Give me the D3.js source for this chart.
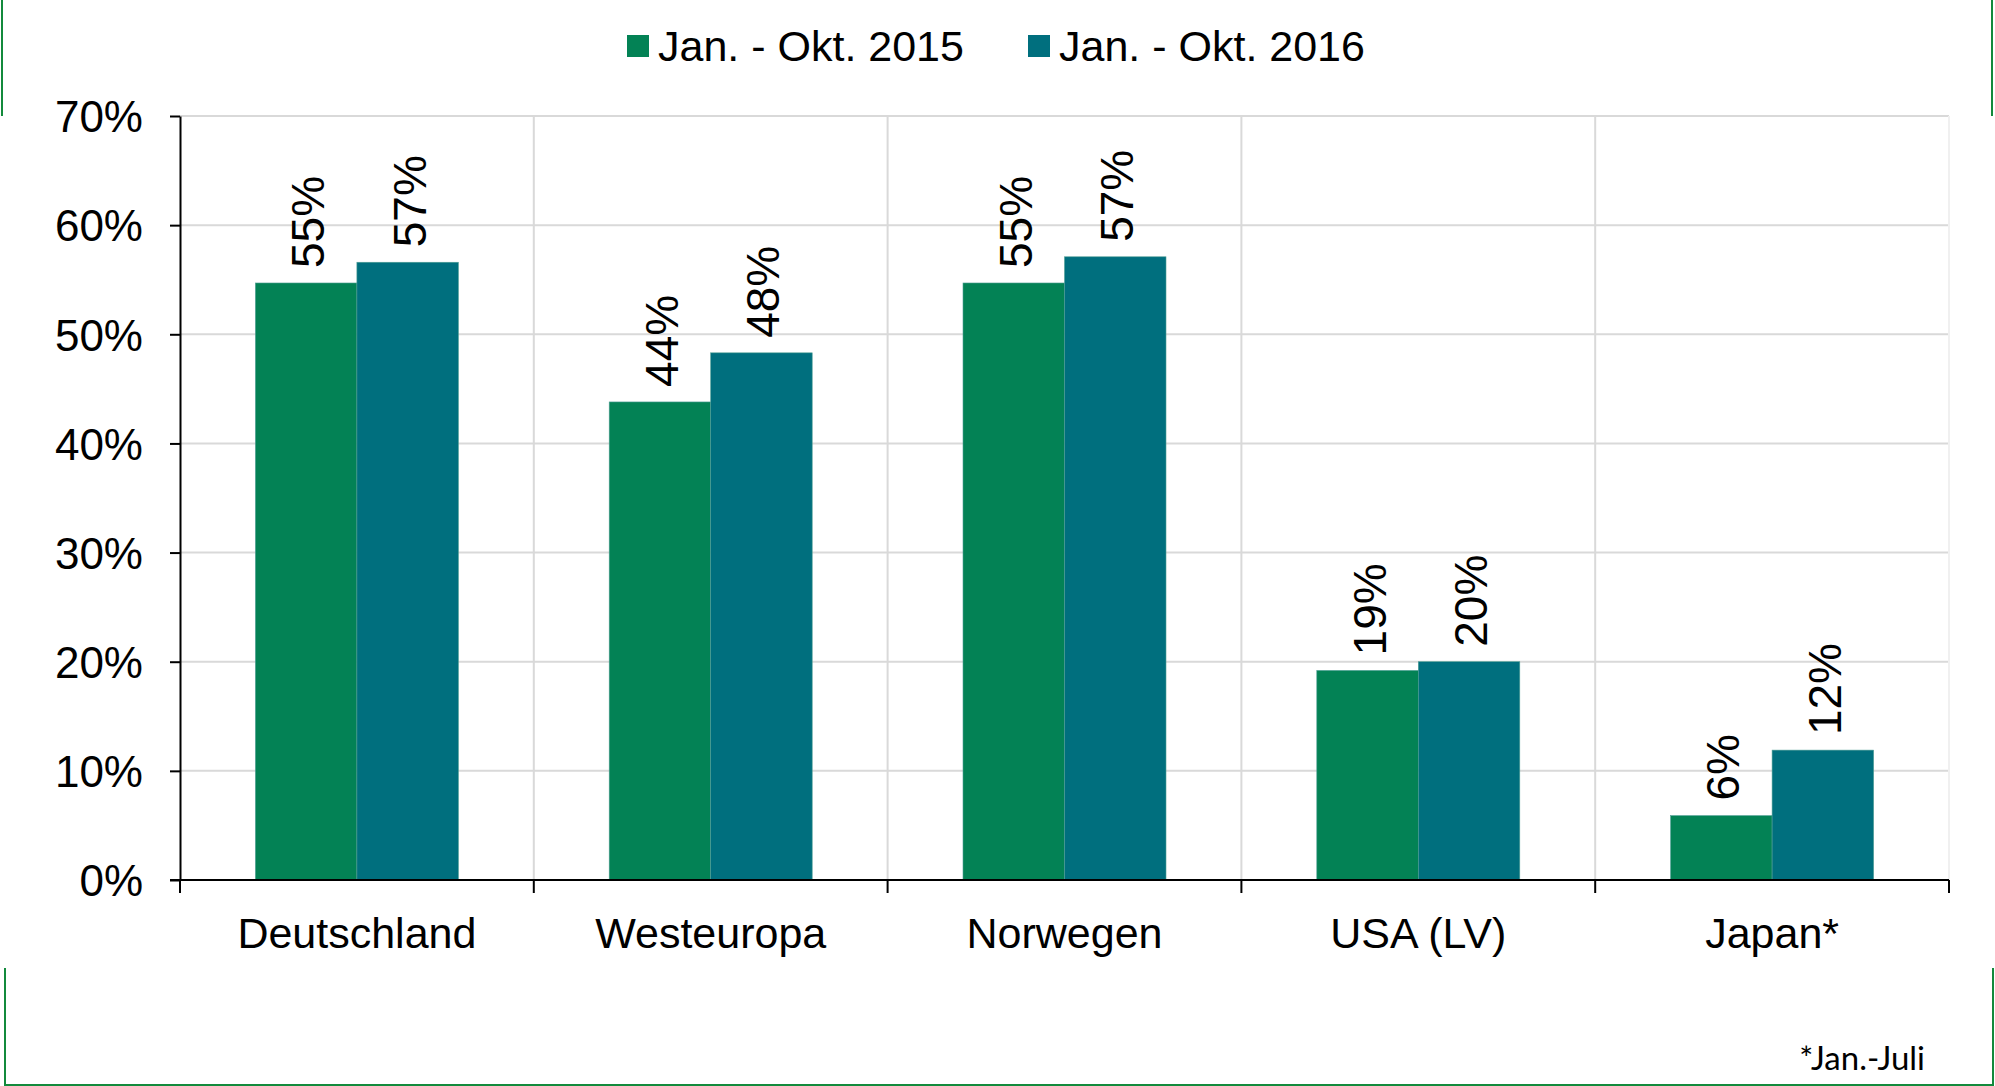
<!DOCTYPE html>
<html>
<head>
  <meta charset="UTF-8">
  <title>Anteil 2015 / 2016</title>
  <script src="https://d3js.org/d3.v7.min.js"></script>
  <style>
    body {
      margin: 0;
      padding: 0;
      background-color: #ffffff;
      font-family: 'Liberation Sans', Arial, sans-serif;
    }
    svg text {
      fill: #000;
    }
    .axis path, .axis line {
      stroke: #000;
      stroke-width: 2px;
    }
  </style>
</head>
<body>
  <svg id="chart"></svg>
  <script>
    // data
    const categories = ["Deutschland", "Westeuropa", "Norwegen", "USA (LV)", "Japan*"];
    const seriesNames = ["Jan. - Okt. 2015", "Jan. - Okt. 2016"];
    const values2015 = [54.7, 43.8, 54.7, 19.2, 5.9];
    const values2016 = [56.6, 48.3, 57.1, 20.0, 11.9];
    const yTicks = [0, 10, 20, 30, 40, 50, 60, 70];
    const footnote = "*Jan.-Juli";

    const W = 1995, H = 1086;
    const colors = ["#038255", "#006f7e"];
    const borderColor = "#138a3c";

    const pL = 180, pR = 1949, pT = 116, pB = 880;

    const svg = d3.select("#chart")
      .attr("width", W)
      .attr("height", H);

    const x0 = d3.scaleBand()
      .domain(categories)
      .range([pL, pR])
      .padding(0);

    const bw = x0.bandwidth();
    const groupW = 203;
    const x1 = d3.scaleBand()
      .domain(seriesNames)
      .range([(bw - groupW) / 2, (bw + groupW) / 2])
      .padding(0);

    const y = d3.scaleLinear()
      .domain([0, 70])
      .range([pB, pT]);

    // green frame (open on the sides in the middle)
    const frame = svg.append("g")
      .attr("fill", "none")
      .attr("stroke", borderColor)
      .attr("stroke-width", 2);
    frame.append("line").attr("x1", 2).attr("x2", 2).attr("y1", 0).attr("y2", 116);
    frame.append("line").attr("x1", 1992).attr("x2", 1992).attr("y1", 0).attr("y2", 116);
    frame.append("polyline")
      .attr("points", "5,968 5,1085 1993,1085 1993,968");

    // horizontal grid
    svg.append("g")
      .selectAll("line")
      .data(yTicks.filter(d => d > 0))
      .join("line")
      .attr("x1", pL)
      .attr("x2", pR)
      .attr("y1", d => y(d))
      .attr("y2", d => y(d))
      .attr("stroke", "#d9d9d9")
      .attr("stroke-width", 2);

    // vertical grid at category boundaries
    const bounds = categories.slice(1).map(c => x0(c)).concat([pR]);
    svg.append("g")
      .selectAll("line")
      .data(bounds)
      .join("line")
      .attr("x1", d => d)
      .attr("x2", d => d)
      .attr("y1", pT)
      .attr("y2", pB)
      .attr("stroke", (d, i) => i === bounds.length - 1 ? "#f0f0f0" : "#d9d9d9")
      .attr("stroke-width", 2);

    // bars
    const rows = categories.map((c, i) => ({
      cat: c,
      vals: [
        { s: seriesNames[0], v: values2015[i], k: 0 },
        { s: seriesNames[1], v: values2016[i], k: 1 }
      ]
    }));

    const groups = svg.append("g")
      .selectAll("g")
      .data(rows)
      .join("g")
      .attr("transform", d => `translate(${x0(d.cat)},0)`);

    groups.selectAll("rect")
      .data(d => d.vals)
      .join("rect")
      .attr("x", d => x1(d.s))
      .attr("width", x1.bandwidth())
      .attr("y", d => y(d.v))
      .attr("height", d => pB - y(d.v))
      .attr("fill", d => colors[d.k])
      .attr("stroke", "#4f9e94")
      .attr("stroke-width", 0.6);

    // rotated value labels
    groups.selectAll("text")
      .data(d => d.vals)
      .join("text")
      .attr("transform", d => `translate(${x1(d.s) + x1.bandwidth() / 2 + 18},${y(d.v) - 15}) rotate(-90)`)
      .attr("text-anchor", "start")
      .style("font-size", "46px")
      .text(d => Math.round(d.v) + "%");

    // y axis
    const yAxis = svg.append("g")
      .attr("class", "axis")
      .attr("transform", `translate(${pL},0)`)
      .call(d3.axisLeft(y).tickValues(yTicks).tickSize(10).tickSizeOuter(0).tickPadding(27).tickFormat(d => d + "%"));
    yAxis.selectAll("text")
      .style("font-size", "44px")
      .style("font-family", "'Liberation Sans', Arial, sans-serif")
      .attr("dy", "0.36em");

    // x axis: ticks at category boundaries
    const xAxis = svg.append("g")
      .attr("class", "axis")
      .attr("transform", `translate(0,${pB})`);
    xAxis.append("line")
      .attr("x1", pL - 10)
      .attr("x2", pR)
      .attr("y1", 0)
      .attr("y2", 0);
    xAxis.selectAll("line.tick")
      .data([pL].concat(bounds))
      .join("line")
      .attr("class", "tick")
      .attr("x1", d => d)
      .attr("x2", d => d)
      .attr("y1", 0)
      .attr("y2", 13);
    xAxis.selectAll("text")
      .data(categories)
      .join("text")
      .attr("x", d => x0(d) + bw / 2)
      .attr("y", 68)
      .attr("text-anchor", "middle")
      .style("font-size", "43px")
      .text(d => d);

    // legend
    const legendX = [627, 1028];
    const legend = svg.append("g")
      .selectAll("g")
      .data(seriesNames)
      .join("g")
      .attr("transform", (d, i) => `translate(${legendX[i]},0)`);
    legend.append("rect")
      .attr("x", 0)
      .attr("y", 35)
      .attr("width", 22)
      .attr("height", 22)
      .attr("fill", (d, i) => colors[i]);
    legend.append("text")
      .attr("x", 31)
      .attr("y", 61)
      .style("font-size", "43px")
      .text(d => d);

    // footnote
    svg.append("text")
      .attr("x", 1925)
      .attr("y", 1070)
      .attr("text-anchor", "end")
      .style("font-family", "Lato, 'Open Sans', sans-serif")
      .style("font-size", "33px")
      .text(footnote);
  </script>
</body>
</html>
